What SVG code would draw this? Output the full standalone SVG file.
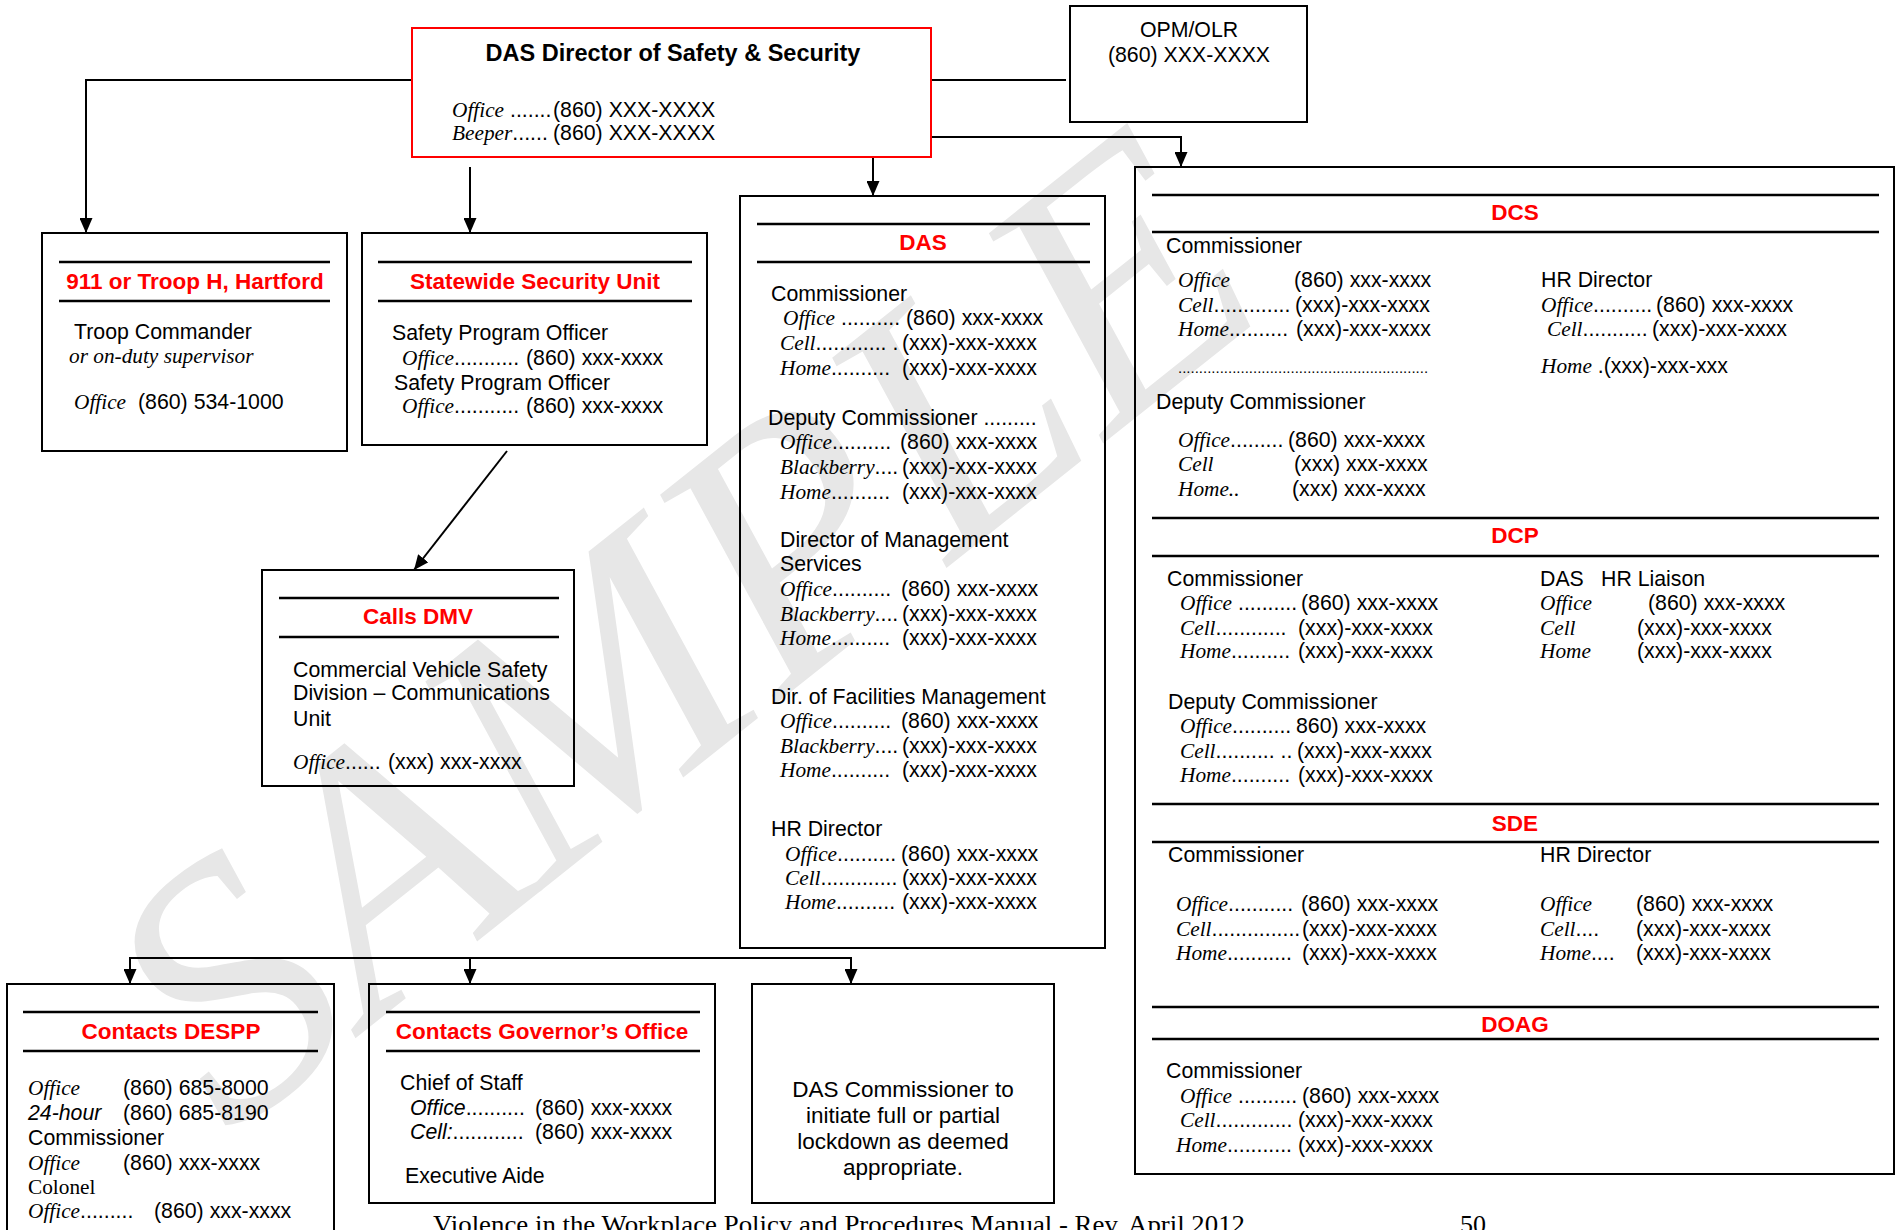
<svg xmlns="http://www.w3.org/2000/svg" width="1896" height="1230" viewBox="0 0 1896 1230">
<style>
text{font-family:"Liberation Sans",Arial,sans-serif;font-size:21.3px;fill:#000}
.i{font-family:"Liberation Serif","Times New Roman",serif;font-style:italic}
.ai{font-style:italic}
.sr{font-family:"Liberation Serif","Times New Roman",serif}
.t{font-weight:bold;font-size:22.5px;fill:#ff0000;text-anchor:middle}
.m{text-anchor:middle}
.box{fill:none;stroke:#000;stroke-width:2}
.hl{stroke:#000;stroke-width:2.5}
.c{fill:none;stroke:#000;stroke-width:2}
.wm{font-family:"Liberation Serif","Times New Roman",serif;font-style:italic;font-size:360px;fill:#e7e7e7}
.ft{font-family:"Liberation Serif","Times New Roman",serif;font-size:26px}
</style>
<defs>
<marker id="arr" markerUnits="userSpaceOnUse" markerWidth="15" markerHeight="13" refX="15" refY="6.5" orient="auto">
<path d="M0,0 L15,6.5 L0,13 z" fill="#000"/>
</marker>
</defs>
<rect x="0" y="0" width="1896" height="1230" fill="#fff"/>
<g id="watermark">
<text class="wm" transform="translate(230,1138) rotate(-38.5)">SAMPLE</text>
</g>
<g id="connectors">
<polyline class="c" points="412,80 86,80 86,233" marker-end="url(#arr)"/>
<line class="c" x1="470" y1="167" x2="470" y2="233" marker-end="url(#arr)"/>
<line class="c" x1="873" y1="157" x2="873" y2="196" marker-end="url(#arr)"/>
<line class="c" x1="931" y1="80" x2="1066" y2="80"/>
<polyline class="c" points="931,137 1181,137 1181,167" marker-end="url(#arr)"/>
<line class="c" x1="507" y1="451" x2="414" y2="570" marker-end="url(#arr)"/>
<line class="c" x1="130" y1="958" x2="851" y2="958"/>
<line class="c" x1="130" y1="957" x2="130" y2="984" marker-end="url(#arr)"/>
<line class="c" x1="470" y1="957" x2="470" y2="984" marker-end="url(#arr)"/>
<line class="c" x1="851" y1="957" x2="851" y2="984" marker-end="url(#arr)"/>
</g>
<g id="director">
<rect x="412" y="28" width="519" height="129" fill="none" stroke="#ff0000" stroke-width="2"/>
<text class="m" x="673" y="61" style="font-weight:bold;font-size:23.5px">DAS Director of Safety &amp; Security</text>
<text x="452" y="117"><tspan class="i">Office</tspan> .......<tspan x="553">(860) XXX-XXXX</tspan></text>
<text x="452" y="140"><tspan class="i">Beeper</tspan>......<tspan x="553">(860) XXX-XXXX</tspan></text>
</g>
<g id="opm">
<rect class="box" x="1070" y="6" width="237" height="116"/>
<text class="m" x="1189" y="37">OPM/OLR</text>
<text class="m" x="1189" y="62">(860) XXX-XXXX</text>
</g>
<g id="troop">
<rect class="box" x="42" y="233" width="305" height="218"/>
<line class="hl" x1="59" y1="262" x2="330" y2="262"/>
<line class="hl" x1="59" y1="301" x2="330" y2="301"/>
<text class="t" x="195" y="289">911 or Troop H, Hartford</text>
<text x="74" y="339">Troop Commander</text>
<text class="i" x="69" y="363">or on-duty supervisor</text>
<text x="74" y="409"><tspan class="i">Office</tspan><tspan x="138">(860) 534-1000</tspan></text>
</g>
<g id="statewide">
<rect class="box" x="362" y="233" width="345" height="212"/>
<line class="hl" x1="378" y1="262" x2="692" y2="262"/>
<line class="hl" x1="378" y1="301" x2="692" y2="301"/>
<text class="t" x="535" y="289">Statewide Security Unit</text>
<text x="392" y="340">Safety Program Officer</text>
<text x="402" y="365"><tspan class="i">Office</tspan>...........<tspan x="526">(860) xxx-xxxx</tspan></text>
<text x="394" y="390">Safety Program Officer</text>
<text x="402" y="413"><tspan class="i">Office</tspan>...........<tspan x="526">(860) xxx-xxxx</tspan></text>
</g>
<g id="das">
<rect class="box" x="740" y="196" width="365" height="752"/>
<line class="hl" x1="757" y1="224" x2="1090" y2="224"/>
<line class="hl" x1="757" y1="262" x2="1090" y2="262"/>
<text class="t" x="923" y="250">DAS</text>
<text x="771" y="301">Commissioner</text>
<text x="783" y="325"><tspan class="i">Office</tspan> ..........<tspan x="906">(860) xxx-xxxx</tspan></text>
<text x="780" y="350"><tspan class="i">Cell</tspan>............ .<tspan x="902">(xxx)-xxx-xxxx</tspan></text>
<text x="780" y="375"><tspan class="i">Home</tspan>..........<tspan x="902">(xxx)-xxx-xxxx</tspan></text>
<text x="768" y="425">Deputy Commissioner .........</text>
<text x="780" y="449"><tspan class="i">Office</tspan>..........<tspan x="900">(860) xxx-xxxx</tspan></text>
<text x="780" y="474"><tspan class="i">Blackberry</tspan>....<tspan x="902">(xxx)-xxx-xxxx</tspan></text>
<text x="780" y="499"><tspan class="i">Home</tspan>..........<tspan x="902">(xxx)-xxx-xxxx</tspan></text>
<text x="780" y="547">Director of Management</text>
<text x="780" y="571">Services</text>
<text x="780" y="596"><tspan class="i">Office</tspan>..........<tspan x="901">(860) xxx-xxxx</tspan></text>
<text x="780" y="621"><tspan class="i">Blackberry</tspan>....<tspan x="902">(xxx)-xxx-xxxx</tspan></text>
<text x="780" y="645"><tspan class="i">Home</tspan>..........<tspan x="902">(xxx)-xxx-xxxx</tspan></text>
<text x="771" y="704">Dir. of Facilities Management</text>
<text x="780" y="728"><tspan class="i">Office</tspan>..........<tspan x="901">(860) xxx-xxxx</tspan></text>
<text x="780" y="753"><tspan class="i">Blackberry</tspan>....<tspan x="902">(xxx)-xxx-xxxx</tspan></text>
<text x="780" y="777"><tspan class="i">Home</tspan>..........<tspan x="902">(xxx)-xxx-xxxx</tspan></text>
<text x="771" y="836">HR Director</text>
<text x="785" y="861"><tspan class="i">Office</tspan>..........<tspan x="901">(860) xxx-xxxx</tspan></text>
<text x="785" y="885"><tspan class="i">Cell</tspan>.............<tspan x="902">(xxx)-xxx-xxxx</tspan></text>
<text x="785" y="909"><tspan class="i">Home</tspan>..........<tspan x="902">(xxx)-xxx-xxxx</tspan></text>
</g>
<g id="calls-dmv">
<rect class="box" x="262" y="570" width="312" height="216"/>
<line class="hl" x1="279" y1="598" x2="559" y2="598"/>
<line class="hl" x1="279" y1="637" x2="559" y2="637"/>
<text class="t" x="418" y="624">Calls DMV</text>
<text x="293" y="677">Commercial Vehicle Safety</text>
<text x="293" y="700">Division – Communications</text>
<text x="293" y="726">Unit</text>
<text x="293" y="769"><tspan class="i">Office</tspan>......<tspan x="388">(xxx) xxx-xxxx</tspan></text>
</g>
<g id="agencies">
<rect class="box" x="1135" y="167" width="759" height="1007"/>
<g id="dcs">
<line class="hl" x1="1152" y1="195" x2="1879" y2="195"/>
<line class="hl" x1="1152" y1="232" x2="1879" y2="232"/>
<text class="t" x="1515" y="220">DCS</text>
<text x="1166" y="253">Commissioner</text>
<text x="1178" y="287"><tspan class="i">Office</tspan><tspan x="1294">(860) xxx-xxxx</tspan></text>
<text x="1178" y="312"><tspan class="i">Cell</tspan>.............<tspan x="1295">(xxx)-xxx-xxxx</tspan></text>
<text x="1178" y="336"><tspan class="i">Home</tspan>..........<tspan x="1296">(xxx)-xxx-xxxx</tspan></text>
<text x="1178" y="373" style="font-size:15px">............................................................</text>
<text x="1541" y="287">HR Director</text>
<text x="1541" y="312"><tspan class="i">Office</tspan>..........<tspan x="1656">(860) xxx-xxxx</tspan></text>
<text x="1547" y="336"><tspan class="i">Cell</tspan>...........<tspan x="1652">(xxx)-xxx-xxxx</tspan></text>
<text x="1541" y="373"><tspan class="i">Home</tspan> .(xxx)-xxx-xxx</text>
<text x="1156" y="409">Deputy Commissioner</text>
<text x="1178" y="447"><tspan class="i">Office</tspan>.........<tspan x="1288">(860) xxx-xxxx</tspan></text>
<text x="1178" y="471"><tspan class="i">Cell</tspan><tspan x="1294">(xxx) xxx-xxxx</tspan></text>
<text x="1178" y="496"><tspan class="i">Home..</tspan><tspan x="1292">(xxx) xxx-xxxx</tspan></text>
</g>
<g id="dcp">
<line class="hl" x1="1152" y1="518" x2="1879" y2="518"/>
<line class="hl" x1="1152" y1="556" x2="1879" y2="556"/>
<text class="t" x="1515" y="543">DCP</text>
<text x="1167" y="586">Commissioner</text>
<text x="1180" y="610"><tspan class="i">Office</tspan> ..........<tspan x="1301">(860) xxx-xxxx</tspan></text>
<text x="1180" y="635"><tspan class="i">Cell</tspan>............<tspan x="1298">(xxx)-xxx-xxxx</tspan></text>
<text x="1180" y="658"><tspan class="i">Home</tspan>..........<tspan x="1298">(xxx)-xxx-xxxx</tspan></text>
<text x="1168" y="709">Deputy Commissioner</text>
<text x="1180" y="733"><tspan class="i">Office</tspan>..........<tspan x="1296">860) xxx-xxxx</tspan></text>
<text x="1180" y="758"><tspan class="i">Cell</tspan>.......... ..<tspan x="1297">(xxx)-xxx-xxxx</tspan></text>
<text x="1180" y="782"><tspan class="i">Home</tspan>..........<tspan x="1298">(xxx)-xxx-xxxx</tspan></text>
<text x="1540" y="586">DAS<tspan x="1601">HR Liaison</tspan></text>
<text x="1540" y="610"><tspan class="i">Office</tspan><tspan x="1648">(860) xxx-xxxx</tspan></text>
<text x="1540" y="635"><tspan class="i">Cell</tspan><tspan x="1637">(xxx)-xxx-xxxx</tspan></text>
<text x="1540" y="658"><tspan class="i">Home</tspan><tspan x="1637">(xxx)-xxx-xxxx</tspan></text>
</g>
<g id="sde">
<line class="hl" x1="1152" y1="804" x2="1879" y2="804"/>
<line class="hl" x1="1152" y1="842" x2="1879" y2="842"/>
<text class="t" x="1515" y="831">SDE</text>
<text x="1168" y="862">Commissioner</text>
<text x="1540" y="862">HR Director</text>
<text x="1176" y="911"><tspan class="i">Office</tspan>...........<tspan x="1301">(860) xxx-xxxx</tspan></text>
<text x="1176" y="936"><tspan class="i">Cell</tspan>...............<tspan x="1302">(xxx)-xxx-xxxx</tspan></text>
<text x="1176" y="960"><tspan class="i">Home</tspan>...........<tspan x="1302">(xxx)-xxx-xxxx</tspan></text>
<text x="1540" y="911"><tspan class="i">Office</tspan><tspan x="1636">(860) xxx-xxxx</tspan></text>
<text x="1540" y="936"><tspan class="i">Cell</tspan>....<tspan x="1636">(xxx)-xxx-xxxx</tspan></text>
<text x="1540" y="960"><tspan class="i">Home</tspan>....<tspan x="1636">(xxx)-xxx-xxxx</tspan></text>
</g>
<g id="doag">
<line class="hl" x1="1152" y1="1007" x2="1879" y2="1007"/>
<line class="hl" x1="1152" y1="1039" x2="1879" y2="1039"/>
<text class="t" x="1515" y="1032">DOAG</text>
<text x="1166" y="1078">Commissioner</text>
<text x="1180" y="1103"><tspan class="i">Office</tspan> ..........<tspan x="1302">(860) xxx-xxxx</tspan></text>
<text x="1180" y="1127"><tspan class="i">Cell</tspan>.............<tspan x="1298">(xxx)-xxx-xxxx</tspan></text>
<text x="1176" y="1152"><tspan class="i">Home</tspan>...........<tspan x="1298">(xxx)-xxx-xxxx</tspan></text>
</g>
</g>
<g id="despp">
<rect class="box" x="7" y="984" width="327" height="260"/>
<line class="hl" x1="23" y1="1012" x2="318" y2="1012"/>
<line class="hl" x1="23" y1="1051" x2="318" y2="1051"/>
<text class="t" x="171" y="1039">Contacts DESPP</text>
<text x="28" y="1095"><tspan class="i">Office</tspan><tspan x="123">(860) 685-8000</tspan></text>
<text x="28" y="1120"><tspan class="ai">24-hour</tspan><tspan x="123">(860) 685-8190</tspan></text>
<text x="28" y="1145">Commissioner</text>
<text x="28" y="1170"><tspan class="i">Office</tspan><tspan x="123">(860) xxx-xxxx</tspan></text>
<text class="sr" x="28" y="1194">Colonel</text>
<text x="28" y="1218"><tspan class="i">Office</tspan>.........<tspan x="154">(860) xxx-xxxx</tspan></text>
</g>
<g id="governor">
<rect class="box" x="369" y="984" width="346" height="219"/>
<line class="hl" x1="386" y1="1012" x2="700" y2="1012"/>
<line class="hl" x1="386" y1="1051" x2="700" y2="1051"/>
<text class="t" x="542" y="1039">Contacts Governor’s Office</text>
<text x="400" y="1090">Chief of Staff</text>
<text x="410" y="1115"><tspan class="ai">Office</tspan>..........<tspan x="535">(860) xxx-xxxx</tspan></text>
<text x="410" y="1139"><tspan class="ai">Cell:</tspan>............<tspan x="535">(860) xxx-xxxx</tspan></text>
<text x="405" y="1183">Executive Aide</text>
</g>
<g id="lockdown">
<rect class="box" x="752" y="984" width="302" height="219"/>
<text class="m" x="903" y="1097" style="font-size:22.5px">DAS Commissioner to</text>
<text class="m" x="903" y="1123" style="font-size:22.5px">initiate full or partial</text>
<text class="m" x="903" y="1149" style="font-size:22.5px">lockdown as deemed</text>
<text class="m" x="903" y="1175" style="font-size:22.5px">appropriate.</text>
</g>
<g id="footer">
<text class="ft" x="433" y="1233" textLength="812" lengthAdjust="spacingAndGlyphs">Violence in the Workplace Policy and Procedures Manual - Rev. April 2012</text>
<text class="ft" x="1460" y="1233">50</text>
</g>
</svg>
